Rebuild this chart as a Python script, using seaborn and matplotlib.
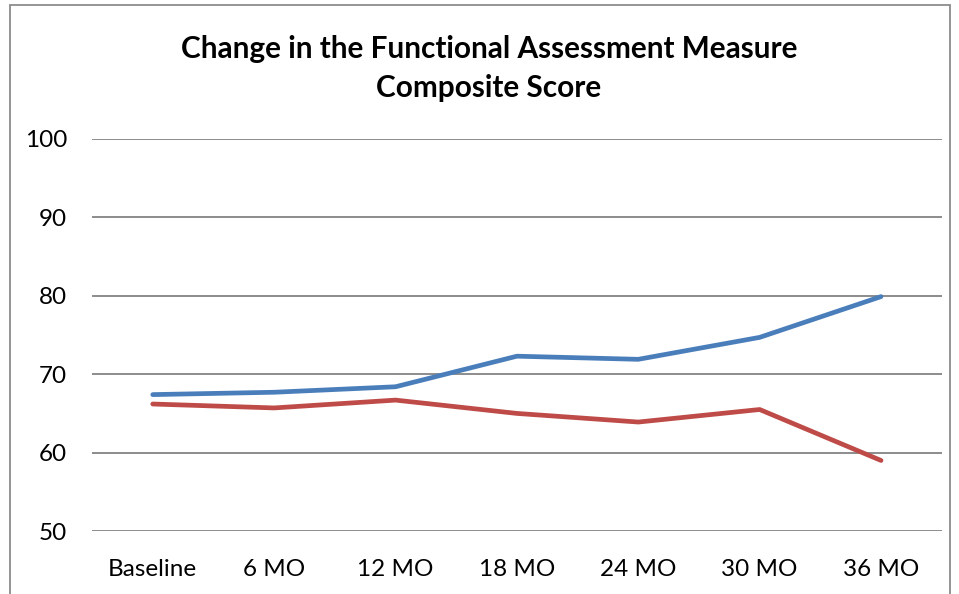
import matplotlib
matplotlib.use("Agg")
import matplotlib.pyplot as plt
import seaborn as sns
import pandas as pd
from matplotlib.patches import Rectangle

# Data
timepoints = ["Baseline", "6 MO", "12 MO", "18 MO", "24 MO", "30 MO", "36 MO"]
blue_scores = [67.4, 67.7, 68.4, 72.3, 71.9, 74.7, 79.9]
red_scores = [66.2, 65.7, 66.7, 65.0, 63.9, 65.5, 59.0]
y_ticks = [50, 60, 70, 80, 90, 100]

df = pd.DataFrame({
    "timepoint": timepoints * 2,
    "score": blue_scores + red_scores,
    "group": ["blue"] * len(timepoints) + ["red"] * len(timepoints),
})
df["x"] = df.groupby("group").cumcount()

sns.set_style("white")
plt.rcParams["font.family"] = ["Lato", "DejaVu Sans"]

fig = plt.figure(figsize=(9.59, 5.94), dpi=100)
ax = fig.add_axes([0.096, 0.106, 0.886, 0.660])

sns.lineplot(data=df, x="x", y="score", hue="group",
             palette={"blue": "#4A7EBB", "red": "#BE4B48"},
             linewidth=3.4, legend=False, ax=ax)
for line in ax.get_lines():
    line.set_solid_capstyle("round")
    line.set_solid_joinstyle("round")

ax.set_xlim(-0.5, len(timepoints) - 0.5)
ax.set_ylim(50, 100)
ax.set_yticks(y_ticks)
ax.set_xticks(range(len(timepoints)))
ax.set_xticklabels(timepoints)
ax.yaxis.grid(True, color="#8C8C8C", linewidth=1.4)
ax.set_axisbelow(True)
ax.tick_params(axis="both", length=0, labelsize=17.5, colors="black")
ax.tick_params(axis="y", pad=18)
ax.tick_params(axis="x", pad=20)
ax.set_xlabel("")
ax.set_ylabel("")
for s in ax.spines.values():
    s.set_visible(False)

fig.text(0.51, 0.885, "Change in the Functional Assessment Measure\nComposite Score",
         ha="center", va="center", fontsize=21.4, fontweight="bold",
         linespacing=1.5, color="black")

# chart frame
fig.patches.append(Rectangle((10 / 959, -0.05), 940 / 959, 1.05 - 5 / 594,
                             transform=fig.transFigure, fill=False,
                             edgecolor="#8C8C8C", linewidth=1.3))

fig.savefig("out.png", dpi=100)
